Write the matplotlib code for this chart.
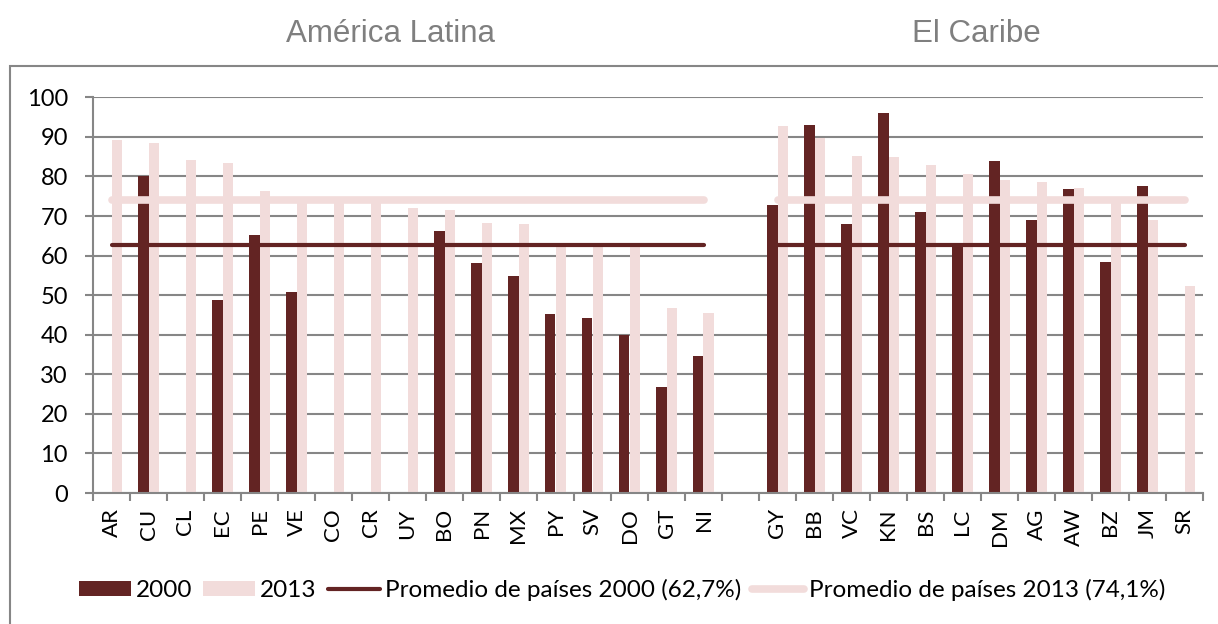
import numpy as np
import matplotlib
matplotlib.use("Agg")
import matplotlib.pyplot as plt
from matplotlib.patches import Patch, Rectangle
from matplotlib.lines import Line2D

# ---- data ----
latam = ["AR", "CU", "CL", "EC", "PE", "VE", "CO", "CR", "UY", "BO", "PN", "MX",
         "PY", "SV", "DO", "GT", "NI"]
caribe = ["GY", "BB", "VC", "KN", "BS", "LC", "DM", "AG", "AW", "BZ", "JM", "SR"]

latam_2000 = [np.nan, 80.2, np.nan, 48.7, 65.2, 50.7, np.nan, np.nan, np.nan, 66.1,
              58.1, 54.8, 45.2, 44.3, 39.9, 26.9, 34.6]
latam_2013 = [89.1, 88.4, 84.1, 83.5, 76.3, 73.8, 73.6, 73.3, 72.1, 71.6,
              68.2, 67.9, 62.6, 62.4, 62.3, 46.8, 45.4]
caribe_2000 = [72.8, 93.0, 68.0, 96.0, 70.9, 62.4, 84.0, 69.1, 76.9, 58.5, 77.7, np.nan]
caribe_2013 = [92.7, 89.8, 85.2, 85.0, 82.9, 80.6, 79.0, 78.5, 77.0, 74.0, 69.0, 52.4]

avg_2000 = 62.7
avg_2013 = 74.1

group_titles = ["América Latina", "El Caribe"]
legend_labels = ["2000", "2013", "Promedio de países 2000 (62,7%)",
                 "Promedio de países 2013 (74,1%)"]

# ---- build combined series with a gap category ----
cats = latam + [""] + caribe
v2000 = np.array(latam_2000 + [np.nan] + caribe_2000, dtype=float)
v2013 = np.array(latam_2013 + [np.nan] + caribe_2013, dtype=float)
line2000 = np.array([avg_2000] * len(latam) + [np.nan] + [avg_2000] * len(caribe))
line2013 = np.array([avg_2013] * len(latam) + [np.nan] + [avg_2013] * len(caribe))

DARK = "#632423"
PINK = "#F2DCDB"
GRID = "#868686"

W, H = 1218, 624
fig = plt.figure(figsize=(W / 100, H / 100), dpi=100)
ax = fig.add_axes([93 / W, 1 - 493 / H, (1203 - 93) / W, (493 - 97.3) / H])

x = np.arange(len(cats))
bw = 0.285
ax.bar(x - bw / 2, v2000, width=bw, color=DARK, zorder=2)
ax.bar(x + bw / 2, v2013, width=bw, color=PINK, zorder=2)
ax.plot(x, line2000, color=DARK, lw=3, solid_capstyle="round", zorder=3)
ax.plot(x, line2013, color=PINK, lw=5.5, solid_capstyle="round", zorder=3)

ax.set_xlim(-0.5, len(cats) - 0.5)
ax.set_ylim(0, 100)
ax.set_yticks(np.arange(0, 101, 10))
ax.yaxis.grid(True, color=GRID, lw=1.5, zorder=0)
ax.set_axisbelow(True)

tick_font = "Lato"
ax.set_yticklabels([str(v) for v in range(0, 101, 10)], fontsize=17,
                   family=tick_font, color="black")
ax.set_xticks(x)
ax.set_xticklabels(cats, rotation=90, fontsize=16, family=tick_font)
ax.tick_params(axis="x", length=0, pad=11)
ax.set_xticks(np.arange(-0.5, len(cats), 1), minor=True)
ax.tick_params(axis="x", which="minor", length=6, width=1.5, color=GRID)
ax.tick_params(axis="y", length=6, width=1.5, color=GRID, pad=12)

for s in ["top", "right"]:
    ax.spines[s].set_visible(False)
for s in ["left", "bottom"]:
    ax.spines[s].set_color(GRID)
    ax.spines[s].set_linewidth(1.5)

# group titles
fig.text(390 / W, 1 - 42 / H, group_titles[0], ha="center", va="baseline",
         fontsize=22.5, color="#7F7F7F", family="Liberation Sans")
fig.text(976 / W, 1 - 42 / H, group_titles[1], ha="center", va="baseline",
         fontsize=22.5, color="#7F7F7F", family="Liberation Sans")

# outer border
fig.patches.append(Rectangle((10 / W, -0.05), 1.2, 1 - 66 / H + 0.05,
                             transform=fig.transFigure, fill=False,
                             edgecolor=GRID, lw=1.5))

handles = [Patch(facecolor=DARK), Patch(facecolor=PINK),
           Line2D([], [], color=DARK, lw=3, solid_capstyle="round"),
           Line2D([], [], color=PINK, lw=5.5, solid_capstyle="round")]
fig.legend(handles, legend_labels, loc="center", bbox_to_anchor=(622 / W, 1 - 590 / H),
           ncol=4, frameon=False, handlelength=2.15, handleheight=0.62,
           handletextpad=0.2, columnspacing=0.45, borderaxespad=0, borderpad=0,
           prop={"family": tick_font, "size": 17.5})

fig.savefig("out.png", dpi=100)
